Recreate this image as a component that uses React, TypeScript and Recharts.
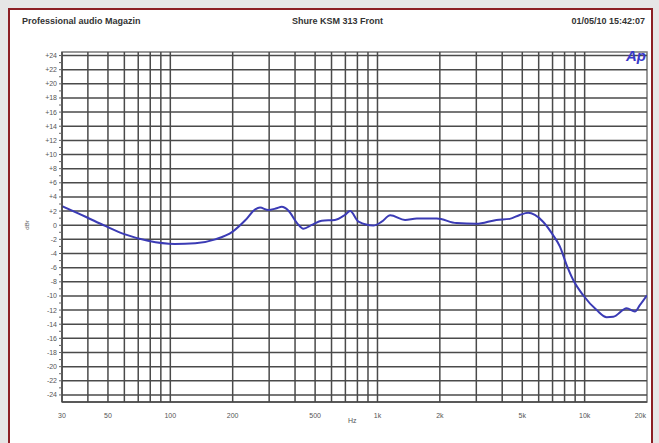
import React from "react";
import {
  LineChart,
  Line,
  XAxis,
  YAxis,
  ReferenceLine,
  ReferenceArea,
} from "recharts";

// frequency response (Hz / dBr)
const freqs = [
  30, 39, 48.5, 60.5, 78, 105, 132, 165, 200, 230, 257, 271, 297, 326, 345, 372,
  409, 439, 482, 538, 623, 696, 738, 810, 956, 1048, 1152, 1359, 1548, 1932, 2407,
  3004, 3750, 4350, 4860, 5340, 5750, 6300, 7040, 7590, 8180, 8810, 9840, 11430,
  12770, 13750, 15950, 17480, 18470, 20000,
];
const levels = [
  2.7, 1.2, -0.1, -1.3, -2.2, -2.65, -2.55, -2.0, -0.9, 0.7, 2.25, 2.5, 2.15, 2.4,
  2.6, 2.05, 0.3, -0.5, 0.05, 0.65, 0.75, 1.45, 2.0, 0.5, -0.05, 0.5, 1.4, 0.75,
  0.95, 0.95, 0.3, 0.2, 0.75, 0.9, 1.45, 1.75, 1.45, 0.5, -1.4, -3.0, -5.6, -7.75,
  -9.9, -12.0, -13.0, -12.95, -11.75, -12.2, -11.3, -9.9,
];

const xTicks = [30, 50, 100, 200, 500, 1000, 2000, 5000, 10000, 20000];
const gridFreqs = [
  40, 50, 60, 70, 80, 90, 100, 200, 300, 400, 500, 600, 700, 800, 900, 1000,
  2000, 3000, 4000, 5000, 6000, 7000, 8000, 9000, 10000,
];
const yTicks = [
  -24, -23, -22, -21, -20, -19, -18, -17, -16, -15, -14, -13, -12, -11, -10, -9,
  -8, -7, -6, -5, -4, -3, -2, -1, 0, 1, 2, 3, 4, 5, 6, 7, 8, 9, 10, 11, 12, 13,
  14, 15, 16, 17, 18, 19, 20, 21, 22, 23, 24,
];
const gridLevels = [
  -24, -22, -20, -18, -16, -14, -12, -10, -8, -6, -4, -2, 0, 2, 4, 6, 8, 10, 12,
  14, 16, 18, 20, 22, 24,
];

const data = freqs.map((f, i) => ({ f, db: levels[i] }));

const fmtHz = (v: number) => (v >= 1000 ? `${v / 1000}k` : `${v}`);
const fmtDb = (v: number) => (v % 2 !== 0 ? "" : v > 0 ? `+${v}` : `${v}`);

const FONT = "'Liberation Sans', Arial, sans-serif";

const head: React.CSSProperties = {
  position: "absolute",
  top: 16,
  fontFamily: FONT,
  fontSize: 9,
  fontWeight: 700,
  color: "#333",
};

const HzTick = (props: any) => {
  const { x, y, payload } = props;
  const last = payload.value === 20000;
  return (
    <text
      x={last ? x - 1 : x}
      y={y + 7}
      textAnchor={last ? "end" : "middle"}
      fontSize={7}
      fill="#555"
      fontFamily={FONT}
    >
      {fmtHz(payload.value)}
    </text>
  );
};

export default function App() {
  return (
    <div
      style={{
        position: "absolute",
        left: 0,
        top: 0,
        width: 659,
        height: 443,
        background: "#e6e6e6",
        overflow: "hidden",
      }}
    >
      <div
        style={{
          position: "absolute",
          left: 8,
          top: 8,
          width: 641,
          height: 450,
          background: "#fff",
          border: "2px solid #8c1f24",
        }}
      />
      <div style={{ ...head, left: 22 }}>Professional audio Magazin</div>
      <div style={{ ...head, left: 292 }}>Shure KSM 313 Front</div>
      <div style={{ ...head, right: 14 }}>01/05/10 15:42:07</div>

      <LineChart
        width={659}
        height={443}
        data={data}
        margin={{ top: 52, right: 12, bottom: 21, left: 22 }}
        style={{ position: "absolute", left: 0, top: 0 }}
      >
        <XAxis
          dataKey="f"
          type="number"
          scale="log"
          domain={[30, 20000]}
          allowDataOverflow
          ticks={xTicks}
          interval={0}
          tick={<HzTick />}
          tickLine={false}
          axisLine={{ stroke: "#444", strokeWidth: 1.5 }}
          tickMargin={3}
          height={20}
        />
        <YAxis
          type="number"
          domain={[-25, 24.5]}
          allowDataOverflow
          ticks={yTicks}
          interval={0}
          tickFormatter={fmtDb}
          tickSize={3}
          tickLine={{ stroke: "#666" }}
          axisLine={{ stroke: "#444", strokeWidth: 1.5 }}
          tick={{ fontSize: 7, fill: "#555", fontFamily: FONT }}
          width={40}
        />
        <ReferenceArea
          x1={30}
          x2={20000}
          y1={-25}
          y2={24.5}
          fill="none"
          stroke="#777"
          strokeWidth={1.5}
        />
        {gridLevels.map((v) => (
          <ReferenceLine key={`h${v}`} y={v} stroke="#4a4a4a" strokeWidth={1.5} />
        ))}
        {gridFreqs.map((f) => (
          <ReferenceLine key={`v${f}`} x={f} stroke="#4a4a4a" strokeWidth={1.5} />
        ))}
        <Line
          type="monotone"
          dataKey="db"
          stroke="#3b3bb5"
          strokeWidth={2}
          dot={false}
          isAnimationActive={false}
        />
      </LineChart>

      <div
        style={{
          position: "absolute",
          left: 626,
          top: 47,
          fontFamily: FONT,
          fontSize: 15,
          fontWeight: 700,
          fontStyle: "italic",
          color: "#3a3ac8",
        }}
      >
        Ap
      </div>
      <div
        style={{
          position: "absolute",
          left: 22,
          top: 222,
          transform: "rotate(-90deg)",
          fontFamily: FONT,
          fontSize: 6,
          color: "#555",
        }}
      >
        dBr
      </div>
      <div
        style={{
          position: "absolute",
          left: 348,
          top: 417,
          fontFamily: FONT,
          fontSize: 7,
          color: "#555",
        }}
      >
        Hz
      </div>
    </div>
  );
}
